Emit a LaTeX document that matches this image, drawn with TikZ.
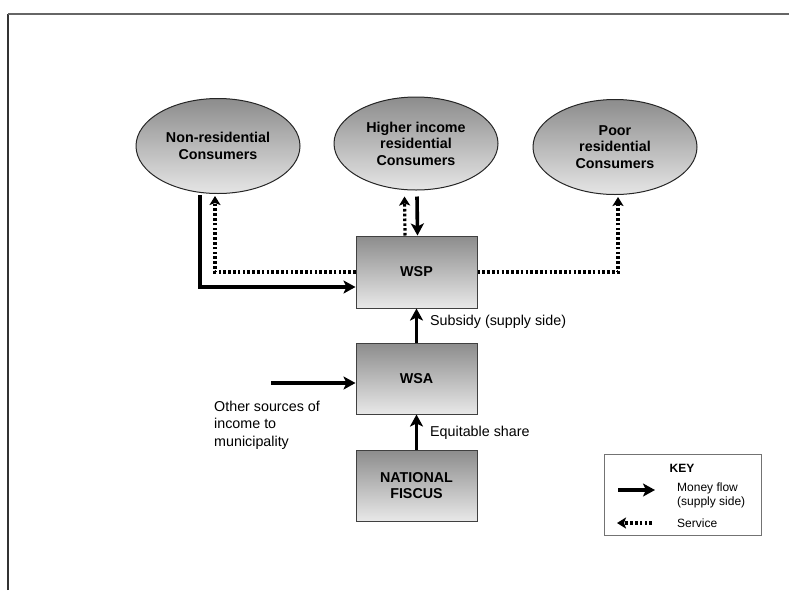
\documentclass[tikz,border=0pt]{standalone}
\usepackage{fontspec}
\setmainfont{Liberation Sans}
\usetikzlibrary{arrows.meta,shapes.geometric,calc}
\begin{document}
\begin{tikzpicture}[x=1pt,y=-1pt,
  shadebox/.style={draw=black!75, line width=1pt, top color=black!45, bottom color=black!9,
    minimum width=121pt, minimum height=71pt, inner sep=0pt, align=center,
    font=\fontsize{14.3}{16}\selectfont\bfseries},
  consumer/.style={ellipse, draw=black!85, line width=1pt, top color=black!45, bottom color=black!10,
    minimum width=164pt, minimum height=95pt, inner sep=0pt, align=center,
    font=\fontsize{14.3}{16.5}\selectfont\bfseries},
  money/.style={line width=3.6pt, -{Stealth[length=12pt,width=13pt,inset=3pt]}},
  service/.style={line width=3.2pt, dash pattern=on 2.6pt off 2.2pt, -{Stealth[length=9pt,width=11pt,inset=2pt]}},
  plain/.style={font=\fontsize{14.3}{17.5}\selectfont, inner sep=0pt, align=left},
  keytext/.style={font=\fontsize{12}{14}\selectfont, inner sep=0pt, align=left}
]
\useasboundingbox (0,0) rectangle (789,590);
% frame
\coordinate (fr1) at (8,590);
\coordinate (fr2) at (8,14);
\coordinate (fr3) at (789,14);
\draw[black!80, line width=1.6pt] (fr1) -- (fr2);
\draw[black!60, line width=1.6pt] (fr2) -- (fr3);

% consumers
\node[consumer] (nonres) at (218,146) {Non-residential\\Consumers};
\node[consumer, minimum height=93pt] (higher) at (416,143.5) {Higher income\\residential\\Consumers};
\node[consumer] (poor) at (615,147) {Poor\\residential\\Consumers};

% boxes
\node[shadebox, minimum height=72pt] (wsp) at (416.5,272) {WSP};
\node[shadebox] (wsa) at (416.5,378.5) {WSA};
\node[shadebox] (fiscus) at (416.5,485.5) {NATIONAL\\FISCUS};

% flows
\draw[money] ($(nonres.south)+(-18,1)$) |- ($(wsp.west)+(0,15)$);
\draw[service, shorten >=2pt] (wsp.west) -| ($(nonres.south)+(-3,0)$);
\draw[service] ($(wsp.north)+(-11.5,0)$) -- ($(higher.south)+(-11.5,6)$);
\draw[money] ($(higher.south)+(1,6)$) -- ($(wsp.north)+(1,0)$);
\draw[service, shorten >=2pt] (wsp.east) -| ($(poor.south)+(3,0)$);

\draw[money] (wsa.north) -- (wsp.south);
\node[plain, anchor=west] (subsidy) at (430,322) {Subsidy (supply side)};
\draw[money] (fiscus.north) -- (wsa.south);
\node[plain, anchor=west] (equit) at (430,433) {Equitable share};

\coordinate (othsrc) at (271,383);
\draw[money] (othsrc) -- (othsrc -| wsa.west);
\node[plain, anchor=west] (othtext) at (214,425) {Other sources of\\income to\\municipality};

% key
\node[draw=black!55, line width=1pt, minimum width=157pt, minimum height=81pt, inner sep=0pt] (key) at (682.5,494.5) {};
\node[keytext, font=\fontsize{12}{14}\selectfont\bfseries, anchor=center] (keytitle) at (682,468) {KEY};
\coordinate (km1) at (618,490);
\coordinate (km2) at (655,490);
\draw[money] (km1) -- (km2);
\node[keytext, anchor=west] (kmoney) at (677,495) {Money flow\\(supply side)};
\coordinate (ks1) at (652,523);
\coordinate (ks2) at (617,523);
\draw[service] (ks1) -- (ks2);
\node[keytext, anchor=west] (kserv) at (677,523) {Service};
\end{tikzpicture}
\end{document}
